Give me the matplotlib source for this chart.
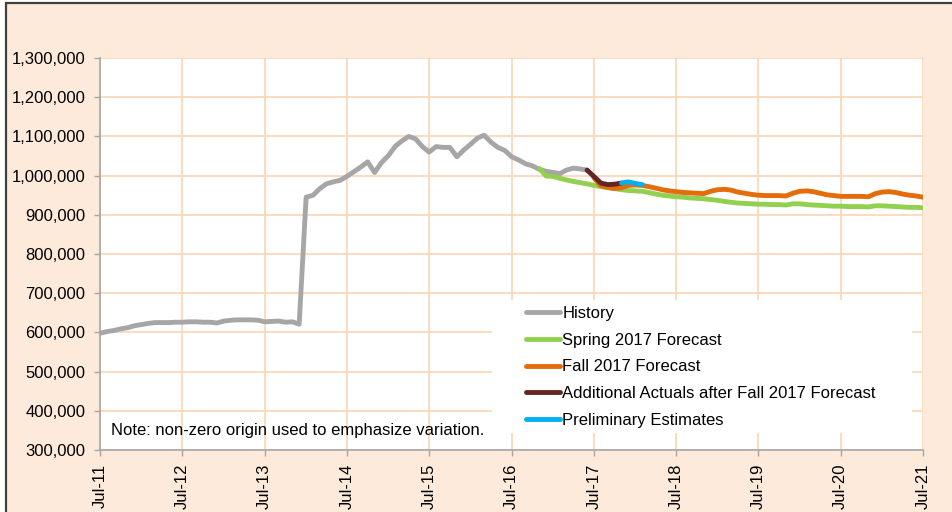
import matplotlib
matplotlib.use("Agg")
import matplotlib.pyplot as plt
import matplotlib.dates as mdates
from matplotlib.patches import Rectangle
from matplotlib.ticker import MultipleLocator, FuncFormatter
import pandas as pd

plt.rcParams['font.family'] = ['Liberation Sans', 'DejaVu Sans']

FONT_SIZE = 12

# monthly axis, Jul-11 .. Jul-21
months = pd.date_range('2011-07-01', '2021-07-01', freq='MS')

# History: Jul-11 .. Jun-17
history = [598, 602, 605, 609, 612, 617, 620, 623, 625, 625,
           625, 626, 626, 627, 627, 626, 626, 624, 629, 631,
           632, 632, 632, 631, 627, 628, 629, 626, 627, 621,
           945, 950, 966, 979, 984, 988, 998, 1010, 1022, 1035,
           1008, 1033, 1051, 1075, 1088, 1100, 1094, 1074, 1060, 1074,
           1072, 1072, 1048, 1065, 1080, 1096, 1103, 1085, 1072, 1064,
           1048, 1040, 1030, 1025, 1016, 1011, 1008, 1005, 1014, 1019,
           1017, 1014]
# Spring 2017 forecast: Nov-16 .. Jul-21
spring = [1018, 999, 998, 993, 989, 985, 982, 979, 975, 972,
          969, 967, 964, 962, 961, 960, 957, 953, 950, 948,
          946, 945, 943, 942, 941, 939, 937, 934, 932, 930,
          929, 928, 927, 927, 926, 926, 925, 928, 928, 926,
          925, 924, 923, 922, 922, 921, 921, 921, 920, 923,
          923, 922, 921, 920, 919, 919, 918]
# Fall 2017 forecast: Jul-17 .. Jul-21
fall = [995, 974, 970, 967, 969, 975, 976, 975, 972, 968,
        964, 961, 959, 957, 956, 955, 954, 960, 964, 965,
        963, 958, 955, 952, 950, 949, 949, 949, 948, 955,
        960, 961, 959, 955, 951, 949, 947, 947, 947, 947,
        946, 954, 958, 959, 957, 953, 950, 948, 945]
# Additional actuals: Jun-17 .. Nov-17
extra_actuals = [1014, 998, 981, 977, 978, 981]
# Preliminary estimates: Nov-17 .. Feb-18
prelim = [981, 984, 980, 977]

series = [
    ("History", 0, history, '#A6A6A6'),
    ("Spring 2017 Forecast", 64, spring, '#92D050'),
    ("Fall 2017 Forecast", 72, fall, '#E46C0A'),
    ("Additional Actuals after Fall 2017 Forecast", 71, extra_actuals, '#632523'),
    ("Preliminary Estimates", 76, prelim, '#00B0F0'),
]

fig = plt.figure(figsize=(9.52, 5.12), dpi=100, facecolor='white')
bg = Rectangle((5.5 / 952, -0.2), 1.3, 1.2 - 3 / 512, transform=fig.transFigure,
               facecolor='#FDEADA', edgecolor='#404040', linewidth=1.6, zorder=-1)
fig.add_artist(bg)

ax = fig.add_axes([100 / 952, 62 / 512, 823 / 952, 392 / 512])
ax.set_facecolor('white')

for label, start, vals, color in series:
    x = months[start:start + len(vals)]
    ax.plot(x, [v * 1000 for v in vals], color=color, linewidth=3.5,
            solid_capstyle='round', label=label, zorder=3)

ax.set_ylim(300000, 1300000)
ax.set_xlim(months[0], months[-1])
ax.yaxis.set_major_locator(MultipleLocator(100000))
ax.yaxis.set_major_formatter(FuncFormatter(lambda v, p: f'{v:,.0f}'))
ax.xaxis.set_major_locator(mdates.MonthLocator(bymonth=7))
ax.xaxis.set_major_formatter(mdates.DateFormatter('%b-%y'))
plt.setp(ax.get_xticklabels(), rotation=90)

ax.grid(True, color='#FCD5B5', linewidth=1.2)
ax.set_axisbelow(True)
for s in ['top', 'right']:
    ax.spines[s].set_visible(False)
for s in ['left', 'bottom']:
    ax.spines[s].set_color('#A6A6A6')
    ax.spines[s].set_linewidth(1.2)
ax.tick_params(axis='y', length=4, width=1, color='#A6A6A6', pad=6.5,
               labelsize=FONT_SIZE, labelcolor='black')
ax.tick_params(axis='x', length=4, width=1, color='#A6A6A6', pad=6,
               labelsize=FONT_SIZE, labelcolor='black')

# white legend area
ax.add_patch(Rectangle(((492 - 100) / 823, (450 - 433) / 392), 420 / 823, 133 / 392,
                       transform=ax.transAxes, facecolor='white', edgecolor='none', zorder=2))
ax.legend(loc='upper left', bbox_to_anchor=((526 - 100) / 823, (450 - 306) / 392),
          frameon=False, borderpad=0, borderaxespad=0, handlelength=2.05,
          handletextpad=0.12, labelspacing=0.7, fontsize=FONT_SIZE)

ax.text((111 - 100) / 823, (450 - 431) / 392,
        "Note: non-zero origin used to emphasize variation.",
        transform=ax.transAxes, va='center', ha='left', fontsize=FONT_SIZE, zorder=4)

plt.savefig("out.png", dpi=100, facecolor=fig.get_facecolor())
